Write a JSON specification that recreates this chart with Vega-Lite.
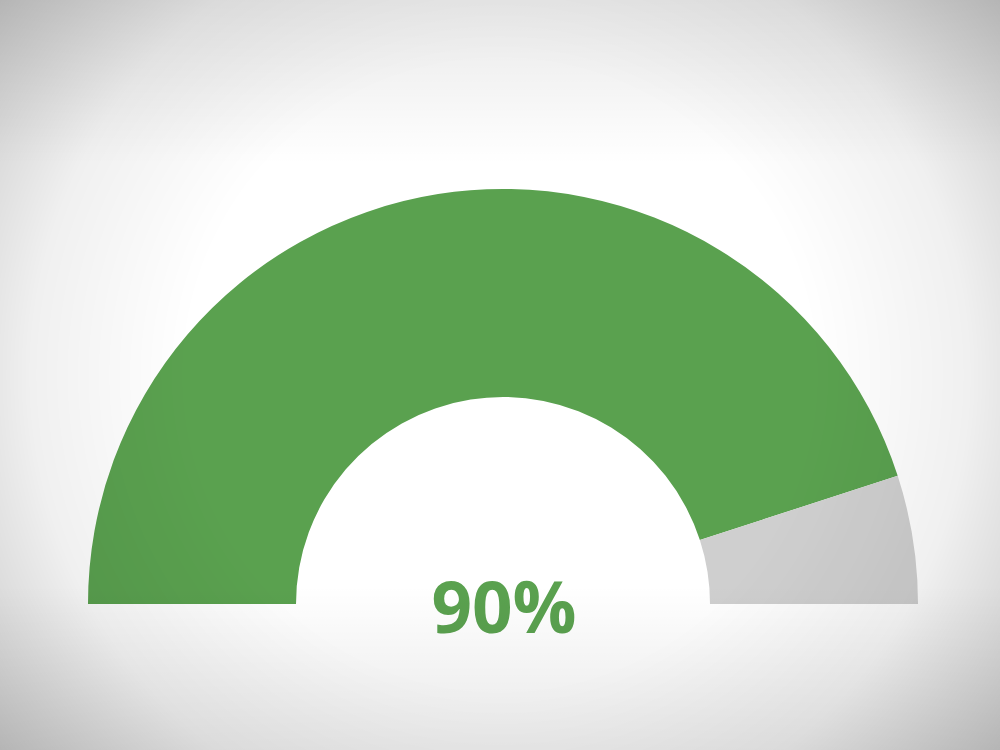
{
  "$schema": "https://vega.github.io/schema/vega-lite/v6.json",
  "width": 1000,
  "height": 750,
  "autosize": {"type": "fit", "contains": "padding"},
  "padding": 0,
  "background": "#ffffff",
  "config": {"view": {"stroke": null}},
  "data": {"values": [
    {"category": "Achieved", "value": 90},
    {"category": "Remaining", "value": 10}
  ]},
  "layer": [
    {
      "mark": {"type": "arc", "radius": 415, "radius2": 207, "stroke": null},
      "encoding": {
        "x": {"value": 503},
        "y": {"value": 604},
        "theta": {"field": "value", "type": "quantitative", "stack": true,
                  "scale": {"domain": [0, 100], "range": [-1.5707963, 1.5707963]}},
        "order": {"field": "value", "sort": "descending"},
        "color": {"field": "category", "type": "nominal", "legend": null,
                  "scale": {"domain": ["Achieved", "Remaining"], "range": ["#5aa14f", "#cfcfcf"]}}
      }
    },
    {
      "transform": [
        {"filter": "datum.category === 'Achieved'"},
        {"calculate": "datum.value + '%'", "as": "label"}
      ],
      "mark": {"type": "text", "font": "Open Sans", "fontWeight": "bold", "fontSize": 71,
               "align": "center", "baseline": "alphabetic", "color": "#5aa14f"},
      "encoding": {
        "x": {"value": 504},
        "y": {"value": 633},
        "text": {"field": "label", "type": "nominal"}
      }
    },
    {
      "data": {"values": [{}]},
      "mark": {"type": "rect", "color": {
        "gradient": "radial", "x1": 0.5, "y1": 0.5, "r1": 0, "x2": 0.5, "y2": 0.5, "r2": 0.625,
        "stops": [
          {"offset": 0, "color": "rgba(0,0,0,0)"},
          {"offset": 0.5, "color": "rgba(0,0,0,0)"},
          {"offset": 0.75, "color": "rgba(0,0,0,0.06)"},
          {"offset": 1, "color": "rgba(0,0,0,0.22)"}
        ]}},
      "encoding": {
        "x": {"value": 0}, "x2": {"value": "width"},
        "y": {"value": 0}, "y2": {"value": "height"}
      }
    },
    {
      "data": {"values": [{}]},
      "mark": {"type": "rect", "color": {
        "gradient": "linear", "x1": 0, "y1": 0, "x2": 0, "y2": 1,
        "stops": [
          {"offset": 0, "color": "rgba(0,0,0,0.09)"},
          {"offset": 0.22, "color": "rgba(0,0,0,0)"},
          {"offset": 0.78, "color": "rgba(0,0,0,0)"},
          {"offset": 1, "color": "rgba(0,0,0,0.09)"}
        ]}},
      "encoding": {
        "x": {"value": 0}, "x2": {"value": "width"},
        "y": {"value": 0}, "y2": {"value": "height"}
      }
    }
  ]
}
